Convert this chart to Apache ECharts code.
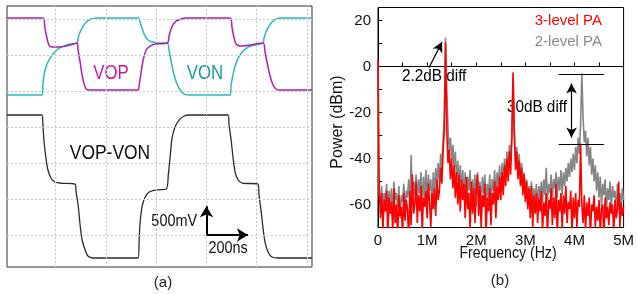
<!DOCTYPE html>
<html>
<head>
<meta charset="utf-8">
<script src="https://cdn.jsdelivr.net/npm/echarts@6/dist/echarts.min.js"></script>
<style>
  html, body { margin: 0; padding: 0; background: #fff; }
  #main { width: 637px; height: 294px; }
</style>
</head>
<body>
<div id="main"></div>
<script>
// (a) scope traces: [time ns, level mV], 200 ns/div and 500 mV/div
var VOP = [[-194,3014],[-51,3014],[-43,2875],[-35,2736],[-27,2639],[-15,2611],[17,2611],[57,2639],[85,2667],[89,2570],[97,2403],[105,2222],[113,2097],[121,2028],[132,2014],[328,2014],[332,2083],[340,2264],[348,2431],[360,2570],[376,2625],[396,2653],[444,2667],[452,2778],[464,2903],[479,2972],[499,3000],[519,3014],[694,3014],[702,2875],[710,2736],[718,2653],[734,2625],[774,2639],[825,2667],[833,2542],[841,2403],[853,2208],[865,2083],[877,2028],[889,2014],[1020,2014]];
var VON = [[-194,1945],[-55,1945],[-51,2083],[-47,2222],[-39,2333],[-27,2431],[-11,2514],[9,2584],[33,2625],[57,2653],[85,2667],[89,2736],[97,2820],[109,2903],[121,2959],[136,2993],[160,3014],[328,3014],[336,2959],[344,2861],[356,2764],[368,2709],[384,2681],[416,2667],[444,2667],[452,2542],[460,2403],[471,2222],[483,2097],[495,2014],[511,1958],[535,1945],[694,1945],[698,2083],[706,2236],[714,2347],[726,2458],[742,2542],[766,2611],[794,2639],[825,2667],[829,2736],[837,2820],[849,2903],[861,2959],[877,3000],[897,3014],[1020,3014]];
var VOP_VON = [[-194,1667],[-55,1667],[-51,1528],[-47,1320],[-39,1070],[-31,903],[-19,792],[-3,736],[17,722],[77,708],[81,597],[89,417],[97,139],[105,-69],[117,-208],[128,-292],[148,-319],[328,-319],[332,-69],[336,181],[344,403],[356,528],[372,597],[396,625],[440,639],[448,833],[456,1111],[463,1347],[475,1500],[491,1597],[511,1653],[535,1667],[686,1667],[690,1528],[698,1320],[706,1070],[714,875],[726,764],[742,722],[805,708],[809,556],[817,347],[825,97],[833,-97],[845,-236],[861,-306],[885,-319],[1020,-319]];
var GRID_T = [0, 200, 400, 600, 800, 1000];
var GRID_V = [0, 500, 1000, 1500, 2000, 2500, 3000];
var SCALE_ORIGIN = [600, 0];
var SCALE_V_END = 400;
var SCALE_T_END = 765;

// (b) spectra in dBm, one value per 25 kHz bin from 0 to 5 MHz
var BIN_MHZ = 0.025;
var PA3 = [
  3, -52, -66, -55, -71, -58, -63, -54, -74, -57,
  -64, -59, -72, -53, -68, -60, -75, -56, -65, -61,
  -73, -55, -67, -58, -62, -76, -54, -69, -47, -64,
  -60, -50, -68, -56, -63, -52, -72, -57, -61, -54,
  -66, -51, -59, -70, -55, -62, -53, -65, -49, -58,
  -54, -44, -51, -37, -28, 10.3, -27, -42, -36, -49,
  -40, -53, -43, -57, -46, -60, -47, -63, -49, -58,
  -51, -66, -48, -62, -55, -71, -50, -64, -53, -68,
  -54, -47, -65, -52, -70, -56, -61, -51, -73, -57,
  -63, -53, -69, -55, -60, -50, -66, -52, -58, -48,
  -58, -46, -56, -43, -52, -40, -50, -37, -47, -31,
  -2.5, -30, -45, -37, -49, -41, -52, -44, -56, -47,
  -59, -50, -62, -53, -66, -52, -70, -56, -64, -55,
  -68, -57, -63, -54, -72, -59, -65, -55, -74, -58,
  -62, -53, -69, -57, -66, -51, -75, -58, -63, -55,
  -71, -56, -64, -52, -68, -59, -62, -54, -73, -57,
  -66, -55, -70, -58, -61, -33.5, -60, -68, -56, -72,
  -59, -65, -57, -74, -60, -63, -56, -70, -61, -67,
  -58, -72, -62, -60, -75, -57, -66, -61, -69, -59,
  -64, -60, -73, -58, -66, -62, -50, -70, -59, -65,
  -61
];
var PA2 = [
  -40, -56, -61, -52, -63, -55, -59, -51, -64, -54,
  -60, -53, -65, -50, -58, -55, -62, -52, -66, -56,
  -59, -51, -63, -54, -57, -49, -61, -38.5, -58, -50,
  -56, -47, -60, -49, -55, -46, -62, -48, -57, -45,
  -59, -47, -54, -49, -61, -46, -56, -44, -52, -42,
  -50, -38, -45, -31, -22, 12.5, -9, -27, -36, -31,
  -41, -34, -45, -37, -49, -41, -52, -43, -55, -45,
  -57, -46, -60, -48, -54, -45, -62, -49, -58, -47,
  -61, -46, -56, -50, -63, -48, -55, -47, -60, -51,
  -57, -47, -61, -49, -54, -45, -58, -46, -52, -43,
  -55, -42, -51, -40, -48, -37, -45, -34, -41, -30,
  -4.8, -28, -40, -35, -46, -38, -49, -42, -53, -46,
  -57, -49, -61, -52, -58, -50, -64, -53, -59, -51,
  -62, -52, -57, -50, -59, -49, -56, -44, -58, -51,
  -55, -47, -58, -49, -53, -46, -57, -48, -54, -45,
  -56, -46, -52, -44, -50, -42, -48, -40, -46, -38,
  -45, -35, -42, -31, -38, -25, -3, -22, -33, -28,
  -39, -31, -43, -35, -47, -40, -50, -43, -54, -46,
  -57, -48, -61, -51, -56, -49, -63, -53, -58, -50,
  -62, -52, -57, -54, -64, -51, -59, -55, -61, -53,
  -58
];
// annotations in (b): [MHz, dBm]
var DIFF22_ARROW = [[1.04, -0.4], [1.304, 10.6]];
var DIFF30_ARROW = [[3.94, -7.4], [3.94, -30.9]];
var DIFF30_LEVELS = [-3.5, -34];
var DIFF30_SPAN = [3.68, 4.6];

var SANS = '"Liberation Sans", Arial, sans-serif';

function bins(values) {
  return values.map(function (v, i) { return [i * BIN_MHZ, v]; });
}

// text helper; sx squeezes the glyphs sideways like the condensed lettering of the figure
function label(text, x, y, size, color, align, sx, rot) {
  return {
    type: 'text', x: x, y: y, scaleX: sx || 1, rotation: rot || 0,
    style: { text: text, fill: color, font: size + 'px ' + SANS, textAlign: align || 'center', textVerticalAlign: 'middle' }
  };
}

var chartDom = document.getElementById('main');
var myChart = echarts.init(chartDom, null, { renderer: 'canvas' });
var option;

option = {
  backgroundColor: '#fff',
  animation: false,
  grid: [
    { left: 7, top: 6, width: 305, height: 261, show: true, borderColor: '#333', borderWidth: 1 },
    { left: 378, top: 7.5, width: 249, height: 220, show: true, borderColor: '#000', borderWidth: 1 }
  ],
  xAxis: [
    { gridIndex: 0, type: 'value', min: -194, max: 1020, show: false },
    {
      gridIndex: 1, type: 'value', min: 0, max: 5, interval: 0.5,
      axisLine: { lineStyle: { color: '#000', width: 1 } },
      axisTick: { inside: true, length: 4, lineStyle: { color: '#000' } },
      axisLabel: {
        margin: 6, fontSize: 15, color: '#111', fontFamily: SANS,
        formatter: function (v) {
          if (v === 0) return '0';
          return Number.isInteger(v) ? v + 'M' : '';
        }
      },
      splitLine: { show: false }
    }
  ],
  yAxis: [
    { gridIndex: 0, type: 'value', min: -444, max: 3181, show: false },
    {
      gridIndex: 1, type: 'value', min: -70, max: 25.65, interval: 10,
      axisLine: { lineStyle: { color: '#000', width: 1 } },
      axisTick: { inside: true, length: 4, lineStyle: { color: '#000' } },
      axisLabel: {
        margin: 7, fontSize: 15, color: '#111', fontFamily: SANS,
        showMaxLabel: false,
        formatter: function (v) {
          return (v % 20 === 0 && v > -70 && v <= 20) ? String(v) : '';
        }
      },
      splitLine: { show: false }
    }
  ],
  series: [
    {
      name: 'grid', type: 'line', xAxisIndex: 0, yAxisIndex: 0, z: 1,
      data: [], silent: true,
      markLine: {
        silent: true, symbol: 'none', animation: false,
        label: { show: false },
        lineStyle: { color: '#c8c8c8', type: [2, 2], width: 1 },
        data: GRID_T.map(function (t) { return { xAxis: t }; })
          .concat(GRID_V.map(function (v) { return { yAxis: v }; }))
      }
    },
    {
      name: 'VOP', type: 'line', xAxisIndex: 0, yAxisIndex: 0, z: 3,
      data: VOP, showSymbol: false, smooth: 0.3,
      lineStyle: { color: '#b11cb4', width: 1.5 }
    },
    {
      name: 'VON', type: 'line', xAxisIndex: 0, yAxisIndex: 0, z: 2,
      data: VON, showSymbol: false, smooth: 0.3,
      lineStyle: { color: '#2db8b8', width: 1.5 }
    },
    {
      name: 'VOP-VON', type: 'line', xAxisIndex: 0, yAxisIndex: 0, z: 2,
      data: VOP_VON, showSymbol: false, smooth: 0.3,
      lineStyle: { color: '#2a2a2a', width: 1.3 },
      markLine: {
        silent: true, animation: false,
        symbol: ['none', 'arrow'], symbolSize: [10, 11],
        label: { show: false },
        lineStyle: { color: '#000', width: 2, type: 'solid' },
        data: [
          [{ coord: SCALE_ORIGIN }, { coord: [SCALE_ORIGIN[0], SCALE_V_END] }],
          [{ coord: SCALE_ORIGIN }, { coord: [SCALE_T_END, SCALE_ORIGIN[1]] }]
        ]
      }
    },
    {
      name: '2-level PA', type: 'line', xAxisIndex: 1, yAxisIndex: 1, z: 2,
      data: bins(PA2), showSymbol: false, sampling: null,
      lineStyle: { color: '#858585', width: 1.6 }
    },
    {
      name: '3-level PA', type: 'line', xAxisIndex: 1, yAxisIndex: 1, z: 3,
      data: bins(PA3), showSymbol: false,
      lineStyle: { color: '#ff0000', width: 1.6 },
      markLine: {
        silent: true, animation: false, symbol: 'none',
        label: { show: false },
        lineStyle: { color: '#000', width: 1.2, type: 'solid' },
        data: [
          [{ coord: DIFF22_ARROW[0], symbol: 'none' }, { coord: DIFF22_ARROW[1], symbol: 'arrow', symbolSize: [8, 10] }],
          [{ coord: DIFF30_ARROW[0], symbol: 'arrow', symbolSize: [8, 10] }, { coord: DIFF30_ARROW[1], symbol: 'arrow', symbolSize: [8, 10] }],
          [{ coord: [DIFF30_SPAN[0], DIFF30_LEVELS[0]] }, { coord: [DIFF30_SPAN[1], DIFF30_LEVELS[0]] }],
          [{ coord: [DIFF30_SPAN[0], DIFF30_LEVELS[1]] }, { coord: [DIFF30_SPAN[1], DIFF30_LEVELS[1]] }]
        ]
      }
    }
  ],
  graphic: [
    label('VOP', 111, 73, 21, '#cc1aa0', 'center', 0.8),
    label('VON', 205, 73, 21, '#169c9c', 'center', 0.8),
    label('VOP-VON', 110, 153, 21, '#111', 'center', 0.83),
    label('500mV', 197, 222, 16, '#111', 'right', 0.9),
    label('200ns', 228, 249, 16, '#111', 'center', 0.9),
    label('(a)', 163, 283, 15, '#222'),
    label('(b)', 500, 281, 15, '#222'),
    label('Power (dBm)', 338, 122, 16, '#111', 'center', 1, Math.PI / 2),
    label('Frequency (Hz)', 508, 253, 17, '#111', 'center', 0.83),
    label('3-level PA', 602, 21, 15, '#ff0000', 'right'),
    label('2-level PA', 602, 42, 15, '#8a8a8a', 'right'),
    label('2.2dB diff', 402, 76, 17, '#000', 'left', 0.9),
    label('30dB diff', 567, 107, 17, '#000', 'right', 0.9)
  ]
};

option && myChart.setOption(option);
</script>
</body>
</html>
